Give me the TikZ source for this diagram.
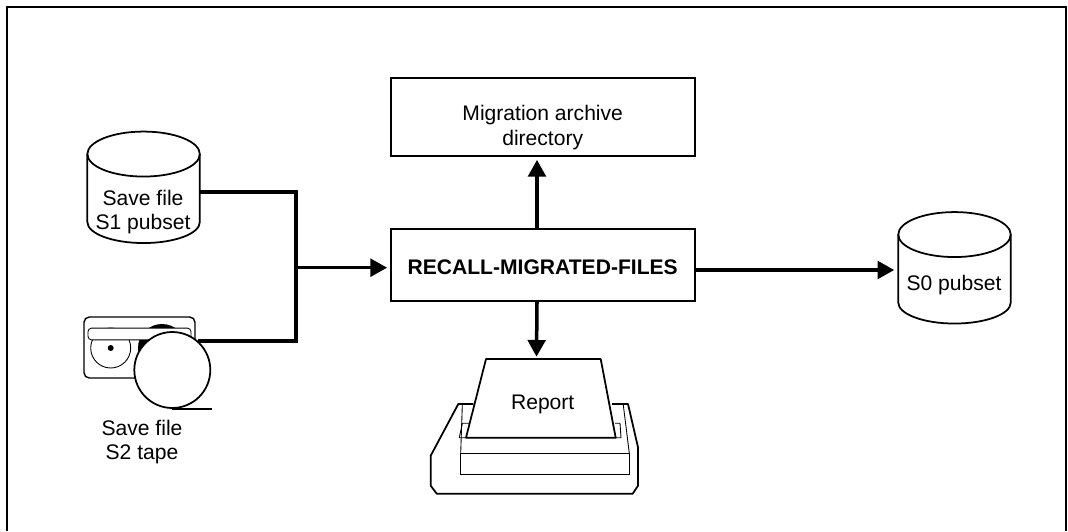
\documentclass[tikz,border=0pt]{standalone}
\usepackage{fontspec}
\setmainfont{Liberation Sans}
\usetikzlibrary{shapes.geometric, arrows.meta, positioning}
\tikzstyle{arrow} = [line width=2pt,-{Triangle[length=9.5pt,width=10pt]}]
\newcommand{\drawdisk}[1]{
	\draw[line width=1pt] ([yshift=-0.45cm]#1.north) ellipse [x radius=1.125cm, y radius=0.45cm];
	\draw[line width=1pt] ([yshift=-0.45cm]#1.north west) -- ([yshift=0.42cm]#1.south west) arc[start angle=180, end angle=360, x radius=1.125cm, y radius=0.42cm] -- ([yshift=-0.45cm]#1.north east);
}

\begin{document}
\begin{tikzpicture}[x=0.02cm,y=-0.02cm]
	% Define styles for the different elements of the diagram
	\tikzstyle{label} = [align=center, font=\fontsize{12}{14}\selectfont, inner sep=0pt]
	\tikzstyle{box} = [rectangle, draw, line width=1pt, minimum width=6.08cm]
	\tikzstyle{disk} = [rectangle, minimum width=2.25cm, minimum height=2.23cm, inner sep=0pt, outer sep=0pt]
	\tikzstyle{bus} = [line width=2pt]
	\tikzstyle{thin part} = [line width=0.5pt]
	\tikzstyle{thick part} = [line width=1pt, line join=round]

	\useasboundingbox (0,0) rectangle (1068,531);

	% Page frame, open at the bottom
	\draw[line width=1pt] (7.3,531) -- (7.3,7.3) -- (1066,7.3) -- (1066,531);

	% Boxes
	\node[box, minimum height=1.56cm] (archive) at (543,117) {};
	\node[label] (archivetext) at (542.7,127.5) {Migration archive\\directory};
	\node[box, minimum height=1.44cm] (recall) at (543,265) {};
	\node[label, font=\fontsize{12}{14}\selectfont\bfseries] (recalltext) at (542.7,267) {RECALL-MIGRATED-FILES};

	% Disks
	\node[disk] (s1disk) at (143.6,187.3) {};
	\drawdisk{s1disk}
	\node[label] (s1text) at (143,212) {Save file\\S1 pubset};
	\node[disk] (s0disk) at (954.5,267.8) {};
	\drawdisk{s0disk}
	\node[label] (s0text) at (954,285.5) {S0 pubset};

	% Tape
	\node[rectangle, draw, line width=0.8pt, rounded corners=3pt, minimum width=2.22cm, minimum height=1.22cm] (tapecase) at (139.5,347.5) {};
	\node[circle, fill=black, minimum size=0.96cm, inner sep=0pt] (tapehub) at (162,348) {};
	\node[circle, draw, thin part, minimum size=0.8cm, inner sep=0pt] (tapeleft) at (110.7,348) {};
	\node[circle, fill=black, minimum size=0.12cm, inner sep=0pt] (tapedot) at (110.7,348) {};
	\node[rectangle, draw, thin part, fill=white, rounded corners=2pt, minimum width=2.06cm, minimum height=0.2cm] (tapeslot) at (139.5,334) {};
	\node[circle, draw, line width=1pt, fill=white, minimum size=1.52cm, inner sep=0pt] (tapereel) at (172.3,370) {};
	\draw[thick part] (tapereel.south) -- ++(40,0);
	\node[label] (s2text) at (142,442) {Save file\\S2 tape};

	% Printer
	\draw[thick part] (473.3,404) -- (458.3,404) -- (430.7,455.7) -- (430.7,485.7) -- (436.7,493.7) -- (632.7,493.7) -- (638,485.7) -- (638,447.3) -- (628,404) -- (612,404);
	\draw[thin part] (460.7,453.3) -- (462.3,405) (629.3,453.3) -- (623.3,405);
	\draw[thin part] (460.7,453.3) rectangle (629.3,474.7);
	\draw[thin part] (472,423.3) -- (462.3,423.3) -- (459.3,437.7) -- (621,437.7) -- (620,423.3) -- (615,423.3);
	\draw[thick part, fill=white] (486,359) coordinate (sheet) -- (600.7,359) -- (615.7,437.7) -- (466,437.7) -- cycle;
	\node[label] (report) at (542.7,404) {Report};

	% Connections
	\coordinate (join) at (296,267.7);
	\draw[bus] ([yshift=-0.09cm]s1disk.east) -| (join) |- (tapereel.48);
	\draw[arrow] (join) -- ([xshift=-0.06cm]recall.west |- join);
	\draw[arrow] ([xshift=-0.12cm]recall.north) -- ([xshift=-0.12cm,yshift=-0.06cm]archive.south);
	\draw[arrow] ([xshift=-0.12cm]recall.south) -- (536.5,356.7);
	\draw[arrow] ([yshift=-0.044cm]recall.east |- s0disk.west) -- ([xshift=-0.08cm,yshift=-0.044cm]s0disk.west);
\end{tikzpicture}
\end{document}
